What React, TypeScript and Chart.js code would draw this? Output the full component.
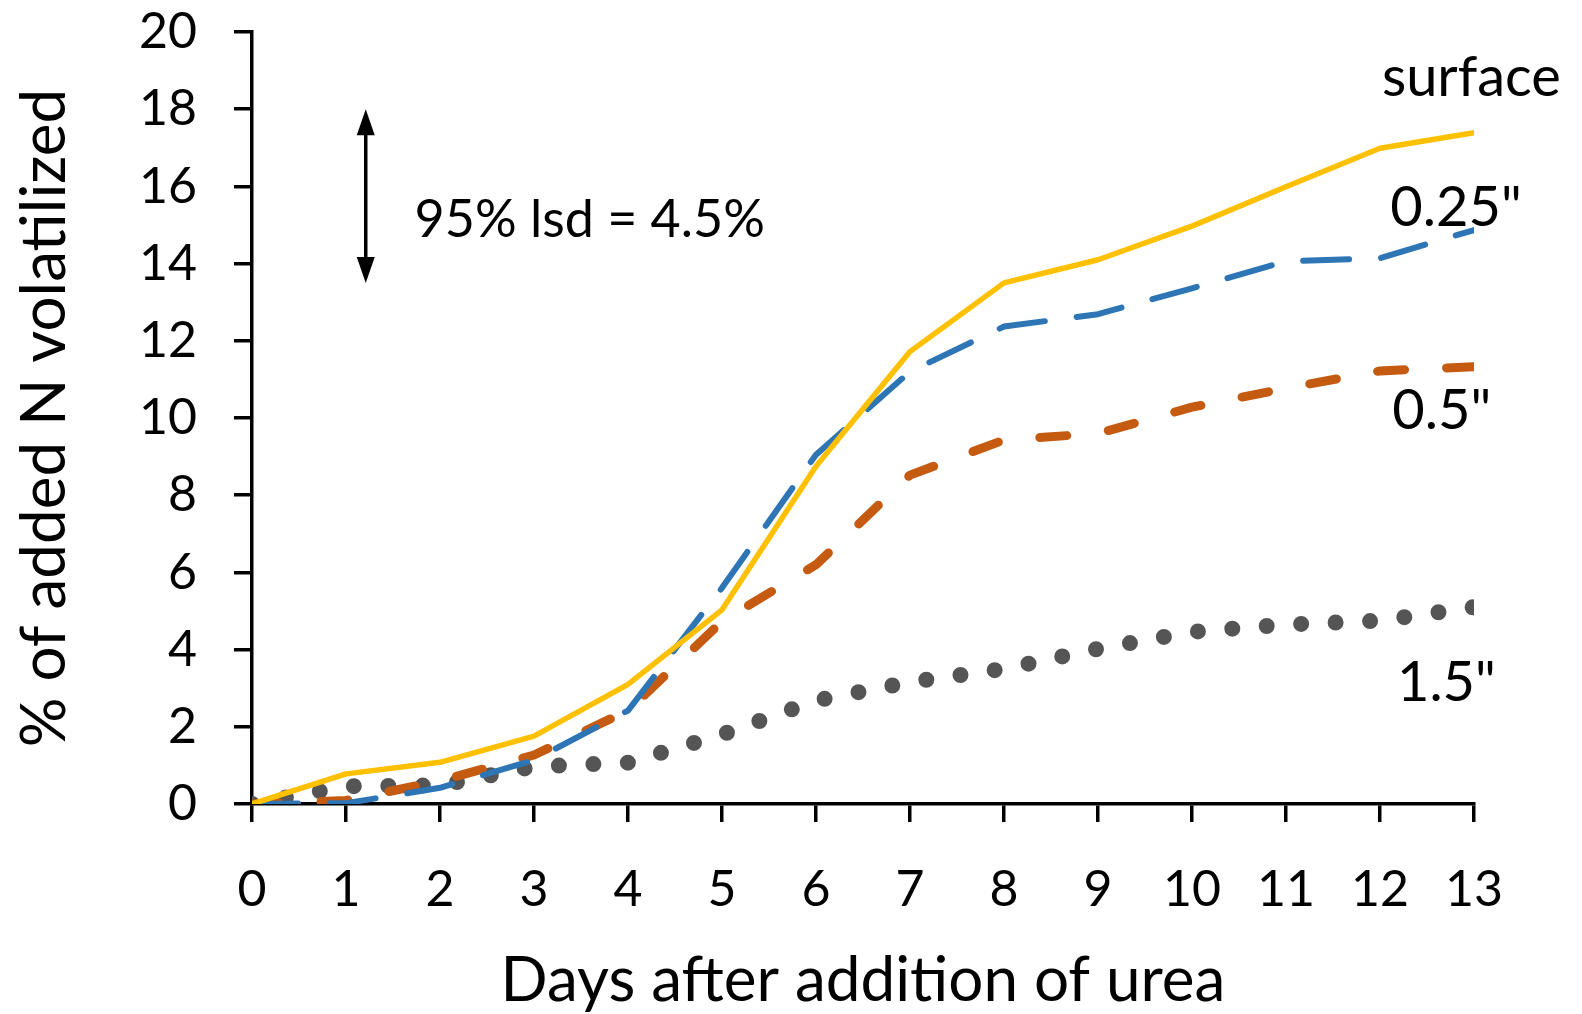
import { useEffect, useRef } from "react";
import { Chart, registerables } from "chart.js";

Chart.register(...registerables);

// ---- data ----
const days = [0, 1, 2, 3, 4, 5, 6, 7, 8, 9, 10, 11, 12, 13];
const surface = [0, 0.78, 1.08, 1.76, 3.1, 5.03, 8.75, 11.72, 13.5, 14.1, 14.97, 15.99, 16.99, 17.39];
const depth025 = [0, 0.02, 0.42, 1.14, 2.42, 5.6, 9.05, 11.2, 12.37, 12.69, 13.36, 14.06, 14.14, 14.87];
const depth05 = [0, 0.09, 0.6, 1.27, 2.42, 4.73, 6.2, 8.52, 9.43, 9.6, 10.28, 10.77, 11.22, 11.33];
const depth15 = [0, 0.46, 0.48, 0.97, 1.07, 1.8, 2.68, 3.16, 3.5, 4.02, 4.46, 4.65, 4.75, 5.1];
const seriesNames = ["surface", '0.25"', '0.5"', '1.5"'];
const lsdValue = 4.5;
const lsdText = "95% lsd = 4.5%";
const xTitle = "Days after addition of urea";
const yTitle = "% of added N volatilized";

const FONT = "Lato";

export default function App() {
  const ref = useRef<HTMLCanvasElement>(null);

  useEffect(() => {
    document.body.style.margin = "0";
    const canvas = ref.current!;

    // placements of the in-plot texts, in data units
    const labelPlaces = [
      { day: 12.02, value: 18.34 },
      { day: 12.11, value: 14.97 },
      { day: 12.13, value: 9.72 },
      { day: 12.18, value: 2.67 },
    ];
    const lsdPlace = { arrowDay: 1.21, top: 18, textDay: 1.73, textValue: 14.69 };

    const annotations = {
      id: "annotations",
      afterDatasetsDraw(chart: any) {
        const { ctx, scales } = chart;
        const x = scales.x;
        const y = scales.y;
        ctx.save();
        ctx.fillStyle = "#000";
        ctx.strokeStyle = "#000";
        ctx.textAlign = "left";
        ctx.textBaseline = "alphabetic";
        ctx.font = `56px ${FONT}`;
        seriesNames.forEach((name, i) => {
          const p = labelPlaces[i];
          ctx.fillText(name, x.getPixelForValue(p.day), y.getPixelForValue(p.value));
        });
        ctx.font = `52px ${FONT}`;
        ctx.fillText(lsdText, x.getPixelForValue(lsdPlace.textDay), y.getPixelForValue(lsdPlace.textValue));

        // double-headed arrow spanning the lsd
        const ax = x.getPixelForValue(lsdPlace.arrowDay);
        const y1 = y.getPixelForValue(lsdPlace.top);
        const y2 = y.getPixelForValue(lsdPlace.top - lsdValue);
        const head = 26;
        const hw = 9;
        ctx.lineWidth = 3.5;
        ctx.beginPath();
        ctx.moveTo(ax, y1 + head - 4);
        ctx.lineTo(ax, y2 - head + 4);
        ctx.stroke();
        ctx.beginPath();
        ctx.moveTo(ax, y1);
        ctx.lineTo(ax - hw, y1 + head);
        ctx.lineTo(ax + hw, y1 + head);
        ctx.closePath();
        ctx.fill();
        ctx.beginPath();
        ctx.moveTo(ax, y2);
        ctx.lineTo(ax - hw, y2 - head);
        ctx.lineTo(ax + hw, y2 - head);
        ctx.closePath();
        ctx.fill();
        ctx.restore();
      },
    };

    const toPts = (vals: number[]) => days.map((d, i) => ({ x: d, y: vals[i] }));

    const chart = new Chart(canvas, {
      type: "line",
      data: {
        datasets: [
          {
            label: seriesNames[0],
            data: toPts(surface),
            borderColor: "#FFC000",
            borderWidth: 5.5,
            borderCapStyle: "round",
            borderJoinStyle: "round",
          },
          {
            label: seriesNames[1],
            data: toPts(depth025),
            borderColor: "#2E75B6",
            borderWidth: 6,
            borderDash: [46, 32],
            borderCapStyle: "round",
            borderJoinStyle: "round",
          },
          {
            label: seriesNames[2],
            data: toPts(depth05),
            borderColor: "#C55A11",
            borderWidth: 9,
            borderDash: [27, 42],
            borderCapStyle: "round",
            borderJoinStyle: "round",
          },
          {
            label: seriesNames[3],
            data: toPts(depth15),
            borderColor: "#555555",
            borderWidth: 16,
            borderDash: [0, 34.5],
            borderCapStyle: "round",
            borderJoinStyle: "round",
          },
        ],
      },
      options: {
        animation: false,
        responsive: false,
        events: [],
        layout: { padding: { top: 32, right: 108, left: 0, bottom: 0 } },
        elements: { point: { radius: 0 }, line: { tension: 0 } },
        plugins: { legend: { display: false }, tooltip: { enabled: false }, title: { display: false } },
        scales: {
          x: {
            type: "linear",
            min: 0,
            max: 13,
            afterFit: (s: any) => {
              s.height = 210;
              s.paddingLeft = 0;
              s.paddingRight = 0;
            },
            ticks: {
              stepSize: 1,
              color: "#000",
              padding: 38,
              maxRotation: 0,
              autoSkip: false,
              font: { family: FONT, size: 50 },
            },
            grid: { drawOnChartArea: false, drawTicks: true, tickLength: 18, color: "#000", lineWidth: 3.5 },
            border: { display: true, color: "#000", width: 3.5 },
            title: {
              display: true,
              text: xTitle,
              color: "#000",
              font: { family: FONT, size: 62, lineHeight: 1.0 },
              padding: { top: 0, bottom: 2 },
            },
          },
          y: {
            type: "linear",
            min: 0,
            max: 20,
            afterFit: (s: any) => {
              s.width = 252;
              s.paddingTop = 0;
              s.paddingBottom = 0;
            },
            ticks: {
              stepSize: 2,
              color: "#000",
              padding: 37,
              font: { family: FONT, size: 50 },
            },
            grid: { drawOnChartArea: false, drawTicks: true, tickLength: 18, color: "#000", lineWidth: 3.5 },
            border: { display: true, color: "#000", width: 3.5 },
            title: {
              display: true,
              text: yTitle,
              color: "#000",
              font: { family: FONT, size: 62, lineHeight: 1.2 },
              padding: { top: 8, bottom: 0 },
            },
          },
        },
      },
      plugins: [annotations],
    } as any);

    return () => chart.destroy();
  }, []);

  return (
    <div style={{ position: "absolute", left: 0, top: 0, width: 1582, height: 1014, background: "#fff" }}>
      <canvas ref={ref} width={1582} height={1014} style={{ display: "block" }} />
    </div>
  );
}
